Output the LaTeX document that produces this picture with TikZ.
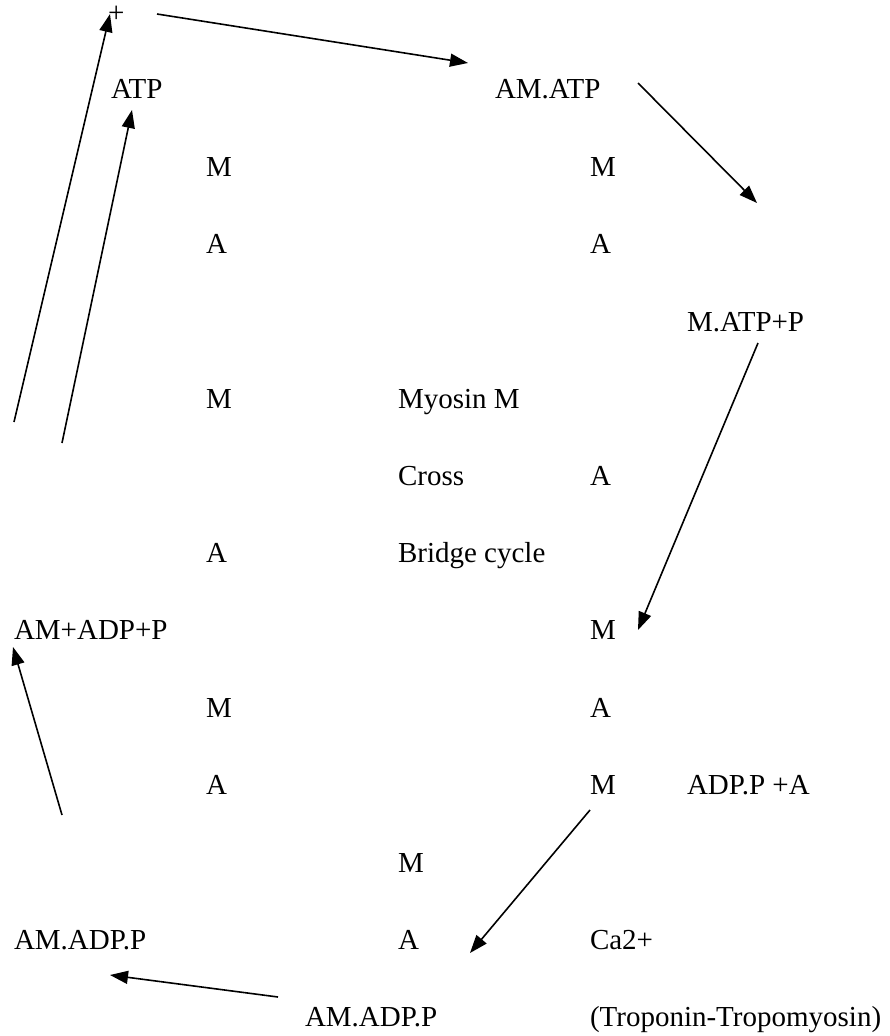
\documentclass[tikz,border=0pt]{standalone}
\usepackage{fontspec}
\setmainfont{Liberation Serif}
\usetikzlibrary{arrows.meta}
\begin{document}
\begin{tikzpicture}[x=1pt,y=-1pt,
  lbl/.style={anchor=base west,inner sep=0pt,outer sep=0pt,font=\fontsize{29}{34}\selectfont},
  arr/.style={line width=1.6pt,-{Triangle[length=18pt,width=13pt]}}]
\useasboundingbox (0,0) rectangle (890,1036);
% text nodes
\node[lbl] (plus) at (108,22) {+};
\node[lbl] (atp) at (111,98) {ATP};
\node[lbl] (amatp) at (495,98) {AM.ATP};
\node[lbl] (m1) at (206,176) {M};
\node[lbl] (m1r) at (590,176) {M};
\node[lbl] (a1) at (206,253) {A};
\node[lbl] (a1r) at (590,253) {A};
\node[lbl] (matpp) at (687,331) {M.ATP+P};
\node[lbl] (m2) at (206,408) {M};
\node[lbl] (myosin) at (398,408) {Myosin M};
\node[lbl] (cross) at (398,485) {Cross};
\node[lbl] (a2r) at (590,485) {A};
\node[lbl] (a2) at (206,562) {A};
\node[lbl] (bridge) at (398,562) {Bridge cycle};
\node[lbl] (amadpp1) at (14,639) {AM+ADP+P};
\node[lbl] (m3r) at (590,639) {M};
\node[lbl] (m3) at (206,717) {M};
\node[lbl] (a3r) at (590,717) {A};
\node[lbl] (a4) at (206,794) {A};
\node[lbl] (m4r) at (590,794) {M};
\node[lbl] (adppa) at (687,794) {ADP.P +A};
\node[lbl] (m5) at (398,872) {M};
\node[lbl] (amadpp2) at (14,949) {AM.ADP.P};
\node[lbl] (a5) at (398,949) {A};
\node[lbl] (ca) at (590,949) {Ca2+};
\node[lbl] (amadpp3) at (305,1026) {AM.ADP.P};
\node[lbl] (tt) at (590,1026) {(Troponin-Tropomyosin)};
% arrow end points
\coordinate (s1) at (14,422);   \coordinate (e1) at (110,14);
\coordinate (s2) at (62,443);   \coordinate (e2) at (132,110);
\coordinate (s3) at (157,14);   \coordinate (e3) at (468,63);
\coordinate (s4) at (638,83);   \coordinate (e4) at (757,203);
\coordinate (s5) at (758,343);  \coordinate (e5) at (638,630);
\coordinate (s6) at (590,810);  \coordinate (e6) at (470,953);
\coordinate (s7) at (278,997);  \coordinate (e7) at (110,975);
\coordinate (s8) at (62,815);   \coordinate (e8) at (13,647);
\draw[arr] (s1) -- (e1);
\draw[arr] (s2) -- (e2);
\draw[arr] (s3) -- (e3);
\draw[arr] (s4) -- (e4);
\draw[arr] (s5) -- (e5);
\draw[arr] (s6) -- (e6);
\draw[arr] (s7) -- (e7);
\draw[arr] (s8) -- (e8);
\end{tikzpicture}
\end{document}
